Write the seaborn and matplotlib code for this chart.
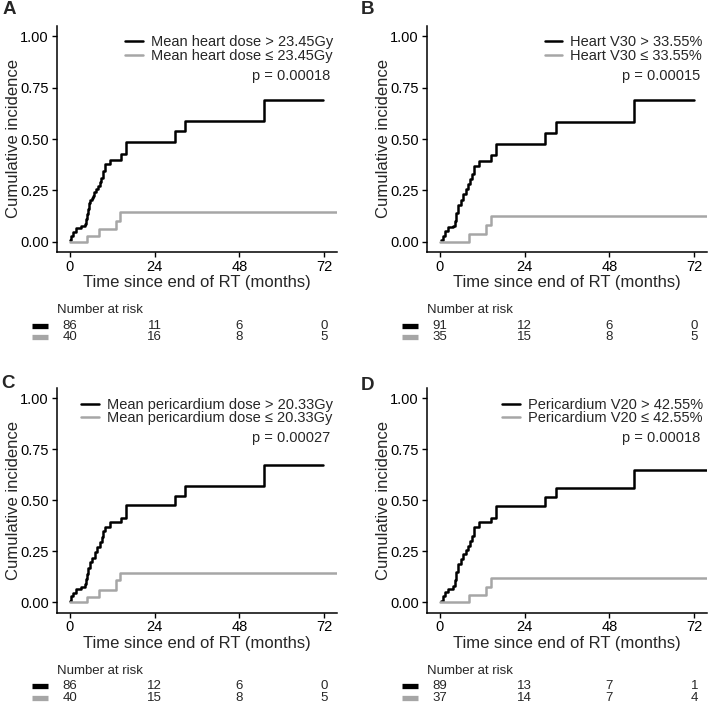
import numpy as np
import pandas as pd
import matplotlib
matplotlib.use("Agg")
import matplotlib.pyplot as plt
import matplotlib.transforms as mtransforms
import seaborn as sns

sns.set_style("ticks")
plt.rcParams["font.family"] = ["Liberation Sans", "DejaVu Sans"]

# ---------------- data ----------------
panel_letters = ["A", "B", "C", "D"]
legend_high = ["Mean heart dose > 23.45Gy", "Heart V30 > 33.55%",
               "Mean pericardium dose > 20.33Gy", "Pericardium V20 > 42.55%"]
legend_low = ["Mean heart dose \u2264 23.45Gy", "Heart V30 \u2264 33.55%",
              "Mean pericardium dose \u2264 20.33Gy", "Pericardium V20 \u2264 42.55%"]
p_values = ["p = 0.00018", "p = 0.00015", "p = 0.00027", "p = 0.00018"]

risk_times = [0, 24, 48, 72]
risk_high = [[86, 11, 6, 0], [91, 12, 6, 0], [86, 12, 6, 0], [89, 13, 7, 1]]
risk_low = [[40, 16, 8, 5], [35, 15, 8, 5], [40, 15, 8, 5], [37, 14, 7, 4]]

# Panel A
a_high_t = [0, 0.4, 0.9, 1.9, 3.3, 4.2, 4.5, 4.8, 5.1, 5.4, 5.8, 6.2, 6.6, 7.0, 7.5, 8.0, 8.5, 8.9, 9.4, 9.9, 11.3, 14.6, 16.0, 29.7, 32.5, 54.9, 71.6]
a_high_f = [0.008, 0.03, 0.045, 0.067, 0.078, 0.086, 0.11, 0.135, 0.16, 0.19, 0.205, 0.215, 0.224, 0.24, 0.257, 0.272, 0.29, 0.31, 0.346, 0.376, 0.398, 0.428, 0.484, 0.538, 0.587, 0.691, 0.691]
a_low_t = [0, 4.9, 8.2, 13.2, 14.3, 80]
a_low_f = [0, 0.029, 0.062, 0.102, 0.145, 0.145]
# Panel B
b_high_t = [0.4, 0.9, 1.4, 2.35, 3.8, 4.2, 4.7, 5.2, 5.9, 6.6, 7.3, 8.0, 8.5, 9.0, 9.6, 11.0, 14.6, 16.0, 29.8, 32.8, 55.0, 71.9]
b_high_f = [0.008, 0.03, 0.054, 0.07, 0.078, 0.10, 0.14, 0.18, 0.205, 0.23, 0.255, 0.28, 0.305, 0.33, 0.371, 0.392, 0.42, 0.477, 0.53, 0.582, 0.688, 0.688]
b_low_t = [0, 8.2, 13.2, 14.4, 80]
b_low_f = [0, 0.037, 0.081, 0.124, 0.124]
# Panel C
c_high_t = [0, 0.5, 0.94, 1.9, 3.3, 4.2, 4.6, 5.0, 5.3, 5.6, 6.3, 7.1, 7.8, 8.5, 9.0, 9.4, 9.9, 11.3, 14.6, 16.0, 29.7, 32.7, 54.9, 71.6]
c_high_f = [0.008, 0.03, 0.044, 0.068, 0.076, 0.092, 0.115, 0.141, 0.17, 0.197, 0.22, 0.246, 0.27, 0.295, 0.32, 0.352, 0.371, 0.392, 0.416, 0.478, 0.522, 0.571, 0.676, 0.676]
c_low_t = [0, 4.9, 8.2, 13.2, 14.3, 80]
c_low_f = [0, 0.027, 0.063, 0.108, 0.144, 0.144]
# Panel D
d_high_t = [0.4, 0.9, 1.4, 2.35, 3.8, 4.2, 4.7, 5.2, 5.9, 6.6, 7.3, 8.0, 8.5, 9.0, 9.6, 11.0, 14.6, 16.0, 29.8, 32.8, 55.0, 80]
d_high_f = [0.008, 0.03, 0.052, 0.068, 0.079, 0.108, 0.15, 0.19, 0.212, 0.235, 0.257, 0.279, 0.303, 0.327, 0.371, 0.392, 0.416, 0.473, 0.517, 0.562, 0.647, 0.647]
d_low_t = [0, 8.2, 13.2, 14.4, 80]
d_low_f = [0, 0.035, 0.076, 0.122, 0.122]

curves = [
    (a_high_t, a_high_f, a_low_t, a_low_f),
    (b_high_t, b_high_f, b_low_t, b_low_f),
    (c_high_t, c_high_f, c_low_t, c_low_f),
    (d_high_t, d_high_f, d_low_t, d_low_f),
]

HIGH_COLOR = "#000000"
LOW_COLOR = "#A6A6A6"

# ---------------- layout (pixels) ----------------
W, H = 709, 716
fig = plt.figure(figsize=(W / 100, H / 100), dpi=100)

def px_axes(l, t, r, b):
    return fig.add_axes([l / W, 1 - b / H, (r - l) / W, (b - t) / H])

main_boxes = [(57, 26, 337, 252), (427, 26, 707, 252),
              (57, 388.3, 337, 612.6), (427, 388.3, 707, 612.6)]
risk_boxes = [(57, 300, 337, 345), (427, 300, 707, 345),
              (57, 660.6, 337, 705.6), (427, 660.6, 707, 705.6)]
letter_pos = [(9, 10), (368, 10), (8, 383), (368, 385)]

XLIM = (-3.6, 75.6)
YLIM = (-0.05, 1.05)

for i in range(4):
    ht, hf, lt, lf = curves[i]
    df = pd.concat([
        pd.DataFrame({"time": ht, "cuminc": hf, "group": legend_high[i]}),
        pd.DataFrame({"time": lt, "cuminc": lf, "group": legend_low[i]}),
    ], ignore_index=True)

    ax = px_axes(*main_boxes[i])
    sns.lineplot(data=df, x="time", y="cuminc", hue="group",
                 hue_order=[legend_high[i], legend_low[i]],
                 palette=[HIGH_COLOR, LOW_COLOR], drawstyle="steps-post",
                 estimator=None, sort=False, linewidth=1.8, ax=ax)
    ax.set_xlim(*XLIM)
    ax.set_ylim(*YLIM)
    ax.set_xticks(risk_times)
    ax.set_yticks([0, 0.25, 0.5, 0.75, 1.0])
    ax.set_yticklabels(["0.00", "0.25", "0.50", "0.75", "1.00"])
    ax.tick_params(axis="both", direction="out", length=3.5, width=1.0,
                   colors="black", labelsize=10.5, pad=2)
    ax.tick_params(axis="y", pad=2.5)
    for s in ["top", "right"]:
        ax.spines[s].set_visible(False)
    for s in ["left", "bottom"]:
        ax.spines[s].set_linewidth(1.1)
        ax.spines[s].set_color("black")
    ax.set_xlabel("Time since end of RT (months)", fontsize=12, labelpad=1)
    ax.set_ylabel("Cumulative incidence", fontsize=12, labelpad=-1)
    ax.grid(False)

    handles, labels = ax.get_legend_handles_labels()
    for h in handles:
        h.set_linewidth(1.8)
    ax.legend(handles, labels, loc="upper right",
              bbox_to_anchor=(0.985, 0.958), frameon=False,
              fontsize=10.5, handlelength=1.2, handletextpad=0.55,
              labelspacing=-0.03, borderpad=0, borderaxespad=0)
    ax.text(0.975, 0.779, p_values[i], transform=ax.transAxes,
            ha="right", va="center", fontsize=10.5)

    # panel letter
    lx, ly = letter_pos[i]
    fig.text(lx / W, 1 - ly / H, panel_letters[i], fontsize=13.5,
             fontweight="bold", ha="center", va="center")

    # risk table
    axr = px_axes(*risk_boxes[i])
    axr.set_xlim(*XLIM)
    axr.set_ylim(0, 1)
    axr.axis("off")
    tr = mtransforms.blended_transform_factory(axr.transData, axr.transAxes)
    axr.text(0, 0.778, "Number at risk", transform=axr.transAxes,
             ha="left", va="center", fontsize=9.5)
    rows = [(0.43, risk_high[i], HIGH_COLOR), (0.175, risk_low[i], LOW_COLOR)]
    for ry, vals, col in rows:
        for t, v in zip(risk_times, vals):
            axr.text(t, ry, str(v), transform=tr, ha="center", va="center",
                     fontsize=9.5)
        axr.plot([-10.7, -6.2], [ry, ry], transform=tr, color=col,
                 linewidth=3.8, solid_capstyle="butt", clip_on=False)

fig.savefig("out.png", dpi=100)
